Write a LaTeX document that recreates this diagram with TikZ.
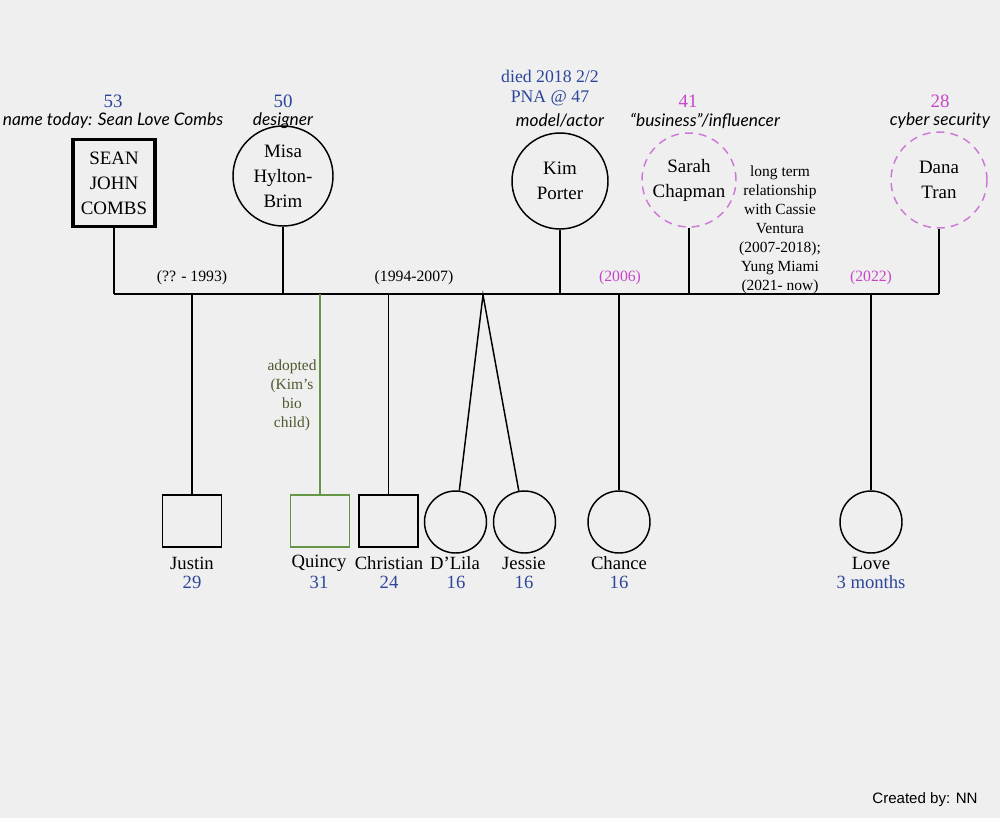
\documentclass[tikz,border=0pt]{standalone}
\usepackage{fontspec}
\setmainfont{Liberation Serif}
\newfontfamily\labelfont{Lato}
\newfontfamily\credfont{Liberation Sans}
\definecolor{bg}{RGB}{239,239,239}
\definecolor{ageblue}{RGB}{45,70,155}
\definecolor{magtext}{RGB}{200,70,200}
\definecolor{magline}{RGB}{205,120,215}
\definecolor{adoptline}{RGB}{100,150,70}
\definecolor{adopttext}{RGB}{75,90,45}
\tikzset{
  ln/.style={line width=1.1pt, black},
  namefont/.style={font=\fontsize{14.2}{18.7}\selectfont, align=center, text=black},
  adult/.style={circle, draw, ln, minimum size=72pt, inner sep=0pt, namefont},
  partner/.style={circle, draw=magline, line width=1.1pt, dash pattern=on 6pt off 4.5pt, minimum size=70.5pt, inner sep=0pt, namefont},
  kidsq/.style={rectangle, draw, ln, minimum width=44.5pt, minimum height=39pt, inner sep=0pt},
  kidci/.style={circle, draw, ln, minimum size=46.5pt, inner sep=0pt},
  age/.style={font=\fontsize{14}{16}\selectfont, text=ageblue, inner sep=0pt},
  magage/.style={font=\fontsize{14.2}{16}\selectfont, text=magtext, inner sep=0pt},
  job/.style={font=\labelfont\itshape\fontsize{13}{15}\selectfont, inner sep=0pt},
  kname/.style={font=\fontsize{14}{16}\selectfont, inner sep=0pt},
  period/.style={font=\fontsize{11.8}{14}\selectfont, inner sep=0pt},
  note/.style={font=\fontsize{11.6}{14.25}\selectfont, align=center, inner sep=0pt},
}
\begin{document}
\begin{tikzpicture}[x=0.75pt,y=-0.75pt]
\fill[bg] (0,0) rectangle (1000,818);
\useasboundingbox (0,0) rectangle (1000,818);

% adults
\node[rectangle, draw, line width=2.6pt, minimum width=61.5pt, minimum height=65pt, inner sep=0pt, namefont] (sean) at (114,183) {SEAN\\JOHN\\COMBS};
\node[adult, minimum size=75pt] (misa) at (283,176) {Misa\\Hylton-\\Brim};
\node[adult] (kim) at (560,181) {Kim\\Porter};
\node[partner] (sarah) at (689,180) {Sarah\\Chapman};
\node[partner, minimum size=72pt] (dana) at (939,180) {Dana\\Tran};

% top labels
\node[age, font=\fontsize{14.2}{16}\selectfont] (seanage) at (113,101) {53};
\node[job] (seanjob) at (113,121) {name today: Sean Love Combs};
\node[age, font=\fontsize{14.2}{16}\selectfont] (misaage) at (283,101) {50};
\node[job] (misajob) at (283,121) {designer};
\node[age, font=\fontsize{13.3}{16}\selectfont] (kimdied) at (550,76) {died 2018 2/2};
\node[age, font=\fontsize{13.3}{16}\selectfont] (kimpna) at (550,98) {PNA @ 47};
\node[job] (kimjob) at (560,121) {model/actor};
\node[magage] (sarahage) at (688,101) {41};
\node[job] (sarahjob) at (705,121) {“business”/influencer};
\node[magage] (danaage) at (940,101) {28};
\node[job] (danajob) at (940,121) {cyber security};

\node[note] (cassie) at (780,230) {long term\\relationship\\with Cassie\\Ventura\\(2007-2018);\\Yung Miami\\(2021- now)};

% bus
\coordinate (busL) at (114,294);
\coordinate (busR) at (939,294);
\draw[ln] (busL) -- (busR);
\draw[ln] (sean) -- (sean |- busL);
\draw[ln] (misa) -- (misa |- busL);
\draw[ln] (kim) -- (kim |- busL);
\draw[ln] (sarah) -- (sarah |- busL);
\draw[ln] (dana) -- (dana |- busL);

\node[period] (p1) at (192,278) {(?? - 1993)};
\node[period] (p2) at (414,278) {(1994-2007)};
\node[period, text=magtext] (p3) at (620,278) {(2006)};
\node[period, text=magtext] (p4) at (871,278) {(2022)};

% children
\node[kidsq] (justin) at (192,521) {};
\node[kidsq, draw=adoptline] (quincy) at (320,521) {};
\node[kidsq] (christian) at (388.5,521) {};
\node[kidci] (dlila) at (455.5,522) {};
\node[kidci] (jessie) at (524.5,522) {};
\node[kidci] (chance) at (619,522) {};
\node[kidci] (love) at (871,522) {};

\draw[ln] (justin |- busL) -- (justin);
\draw[line width=0.9pt, adoptline] (quincy |- busL) -- (quincy);
\draw[ln] (christian |- busL) -- (christian);
\coordinate (twins) at (483,295);
\draw[ln] (dlila) -- (twins) -- (jessie);
\draw[ln] (chance |- busL) -- (chance);
\draw[ln] (love |- busL) -- (love);

\node[note, text=adopttext] (adopted) at (292,395) {adopted\\(Kim’s\\bio\\child)};

% child labels
\node[kname] (jn) at (192,563) {Justin};
\node[age] (ja) at (192,582) {29};
\node[kname] (qn) at (319,563) {Quincy};
\node[age] (qa) at (319,582) {31};
\node[kname] (cn) at (389,563) {Christian};
\node[age] (ca) at (389,582) {24};
\node[kname] (dn) at (455,563) {D’Lila};
\node[age] (da) at (456,582) {16};
\node[kname] (jsn) at (524,563) {Jessie};
\node[age] (jsa) at (524,582) {16};
\node[kname] (chn) at (619,563) {Chance};
\node[age] (cha) at (619,582) {16};
\node[kname] (ln) at (871,563) {Love};
\node[age] (la) at (871,582) {3 months};

\node[font=\credfont\fontsize{11.3}{13}\selectfont, inner sep=0pt] (credit) at (925,800) {Created by: NN};
\end{tikzpicture}
\end{document}
